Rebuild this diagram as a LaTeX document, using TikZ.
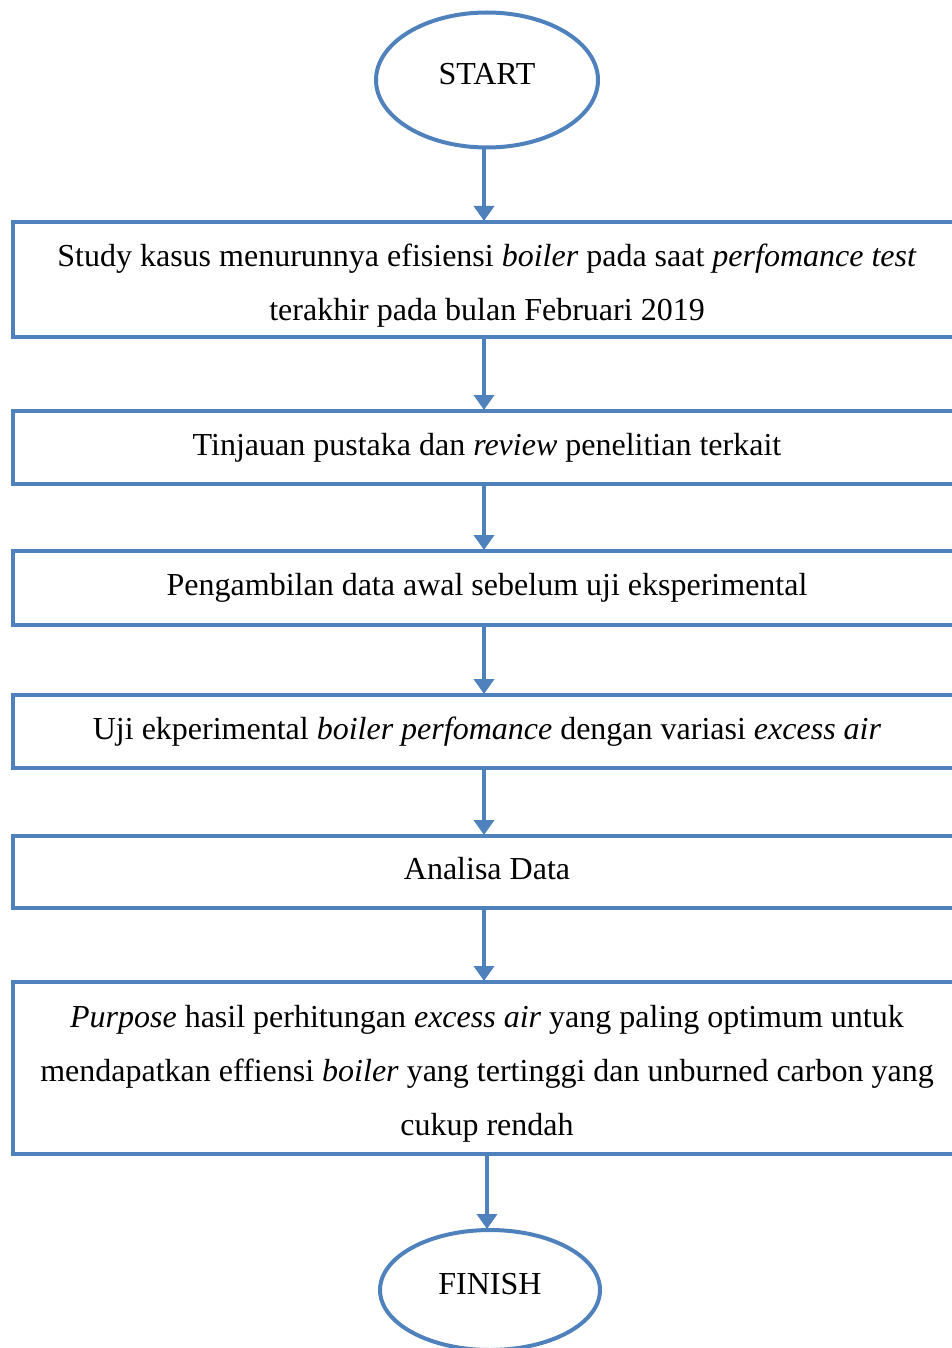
\documentclass[tikz,border=0pt]{standalone}
\usepackage{fontspec}
\setmainfont{Liberation Serif}
\usetikzlibrary{shapes.geometric,arrows.meta}
\definecolor{flowblue}{HTML}{4F81BD}
\tikzset{
  ov/.style={ellipse,draw=flowblue,line width=2pt,fill=white,minimum width=111pt,inner sep=0pt,
    text height=10.6pt,text depth=6.5pt,font=\fontsize{16}{27}\selectfont},
  stepbox/.style={rectangle,draw=flowblue,line width=2pt,fill=white,minimum width=474pt,
    align=center,inner sep=0pt,font=\fontsize{16}{27}\selectfont},
  flow/.style={draw=flowblue,line width=2pt,-{Triangle[width=10pt,length=7.5pt]},shorten >=-0.5pt}
}
\begin{document}
\begin{tikzpicture}[x=0.5pt,y=-0.5pt]
\useasboundingbox (0,0) rectangle (952,1348);
\clip (0,0) rectangle (952,1348);
\node[ov,minimum height=67.5pt] (start) at (487,80) {START};
\node[stepbox,minimum height=57.5pt] (b1) at (487,279.5)
  {\rule{0pt}{17.5pt}Study kasus menurunnya efisiensi \textit{boiler} pada saat \textit{perfomance test}\\
   terakhir pada bulan Februari 2019};
\node[stepbox,minimum height=36.5pt] (b2) at (487,447.5)
  {Tinjauan pustaka dan \textit{review} penelitian terkait};
\node[stepbox,minimum height=37pt] (b3) at (487,588)
  {Pengambilan data awal sebelum uji eksperimental};
\node[stepbox,minimum height=36.5pt] (b4) at (487,731.5)
  {Uji ekperimental \textit{boiler perfomance} dengan variasi \textit{excess air}};
\node[stepbox,minimum height=36pt] (b5) at (487,872)
  {Analisa Data\rule[-4pt]{0pt}{4pt}};
\node[stepbox,minimum height=86pt] (b6) at (487,1068)
  {\rule{0pt}{16.5pt}\textit{Purpose} hasil perhitungan \textit{excess air} yang paling optimum untuk\\
   mendapatkan effiensi \textit{boiler} yang tertinggi dan unburned carbon yang\\
   cukup rendah};
\node[ov,minimum width=110pt,minimum height=60pt] (finish) at (490,1290) {FINISH};
\draw[flow] ([xshift=-1.5pt]start.south) -- ([xshift=-1.5pt]start.south |- b1.north);
\draw[flow] ([xshift=-1.5pt]b1.south) -- ([xshift=-1.5pt]b2.north);
\draw[flow] ([xshift=-1.5pt]b2.south) -- ([xshift=-1.5pt]b3.north);
\draw[flow] ([xshift=-1.5pt]b3.south) -- ([xshift=-1.5pt]b4.north);
\draw[flow] ([xshift=-1.5pt]b4.south) -- ([xshift=-1.5pt]b5.north);
\draw[flow] ([xshift=-1.5pt]b5.south) -- ([xshift=-1.5pt]b6.north);
\draw[flow] ([xshift=-1.5pt]b6.south -| finish.north) -- ([xshift=-1.5pt]finish.north);
\end{tikzpicture}
\end{document}
